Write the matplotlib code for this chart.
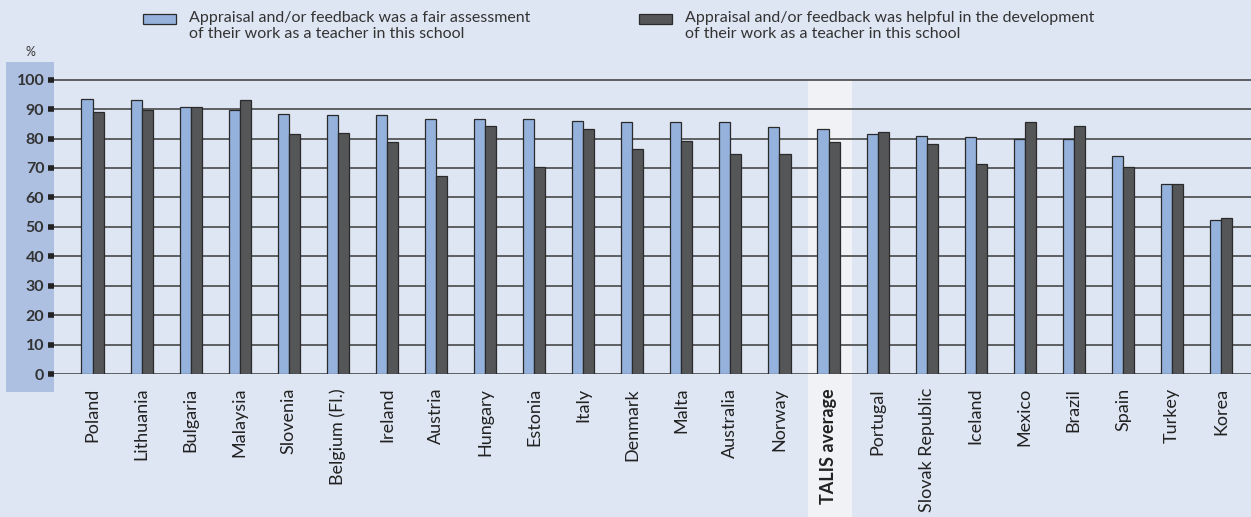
import matplotlib
matplotlib.use("Agg")
import matplotlib.pyplot as plt
from matplotlib.patches import Rectangle

countries = ["Poland", "Lithuania", "Bulgaria", "Malaysia", "Slovenia", "Belgium (Fl.)",
             "Ireland", "Austria", "Hungary", "Estonia", "Italy", "Denmark", "Malta",
             "Australia", "Norway", "TALIS average", "Portugal", "Slovak Republic",
             "Iceland", "Mexico", "Brazil", "Spain", "Turkey", "Korea"]
fair = [93.5, 93.0, 90.8, 89.8, 88.4, 87.9, 87.9, 86.6, 86.6, 86.6, 86.0, 85.6, 85.6,
        85.6, 83.8, 83.2, 81.5, 81.0, 80.4, 79.8, 79.8, 74.0, 64.4, 52.4]
helpful = [89.0, 89.8, 90.8, 93.0, 81.5, 82.0, 78.7, 67.2, 84.4, 70.2, 83.2, 76.4, 79.3,
           74.7, 74.7, 78.7, 82.2, 78.1, 71.3, 85.6, 84.4, 70.2, 64.4, 53.0]
series_labels = ["Appraisal and/or feedback was a fair assessment\nof their work as a teacher in this school",
                 "Appraisal and/or feedback was helpful in the development\nof their work as a teacher in this school"]
yticks = list(range(0, 101, 10))

bg = "#dfe6f3"
light = "#95b2dd"
dark = "#555657"
txt = "#333333"
font = "Lato"

W, H = 1251, 517
fig = plt.figure(figsize=(W / 100, H / 100), dpi=100, facecolor=bg)
ax = fig.add_axes([54 / W, (H - 374) / H, (W - 54) / W, 312 / H], facecolor=bg)
ax.set_zorder(2)

# blue panel behind y tick labels
fig.patches.append(Rectangle((6 / W, (H - 392) / H), 48 / W, 330 / H,
                             transform=fig.transFigure, facecolor="#adc0e2",
                             edgecolor="none", zorder=-1))

x = list(range(len(countries)))
bw = 0.225
talis = countries.index("TALIS average")
ax.add_patch(Rectangle((talis - 0.41, -48.6), 0.88, 148.6, facecolor="#f0f2f5",
                       edgecolor="none", clip_on=False, zorder=0))

ax.bar([i - bw / 2 for i in x], fair, width=bw, color=light, edgecolor="#2a2a2a",
       linewidth=0.9, zorder=3)
ax.bar([i + bw / 2 for i in x], helpful, width=bw, color=dark, edgecolor="#2a2a2a",
       linewidth=0.9, zorder=3)

for t in yticks:
    ax.axhline(t, color="#3a3a3a", lw=1.1, zorder=1)

ax.set_xlim(-0.785, len(countries) - 0.39)
ax.set_ylim(0, 106)
ax.set_yticks(yticks)
ax.set_yticklabels([str(t) for t in yticks], fontsize=11.5, fontweight="bold",
                   color=txt, family=font)
ax.tick_params(axis="y", length=4, width=4, color="#222222", pad=3)
ax.set_xticks(x)
ax.set_xticklabels(countries, rotation=90, fontsize=13, color="#222222", family=font)
ax.tick_params(axis="x", length=0, pad=10)
ax.get_xticklabels()[talis].set_fontweight("bold")
for s in ax.spines.values():
    s.set_visible(False)

fig.text(30 / W, 1 - 52 / H, "%", fontsize=9, color=txt, ha="center", va="center", family=font)

# legend
for xp, col, lab in [(143, light, series_labels[0]), (639, dark, series_labels[1])]:
    fig.patches.append(Rectangle((xp / W, 1 - 24 / H), 33 / W, 10 / H,
                                 transform=fig.transFigure, facecolor=col,
                                 edgecolor="#2a2a2a", linewidth=0.9))
    fig.text((xp + 46) / W, 1 - 11 / H, lab, fontsize=11.5, color=txt, ha="left",
             va="top", family=font, linespacing=1.22)

fig.savefig("out.png", dpi=100, facecolor=bg)
